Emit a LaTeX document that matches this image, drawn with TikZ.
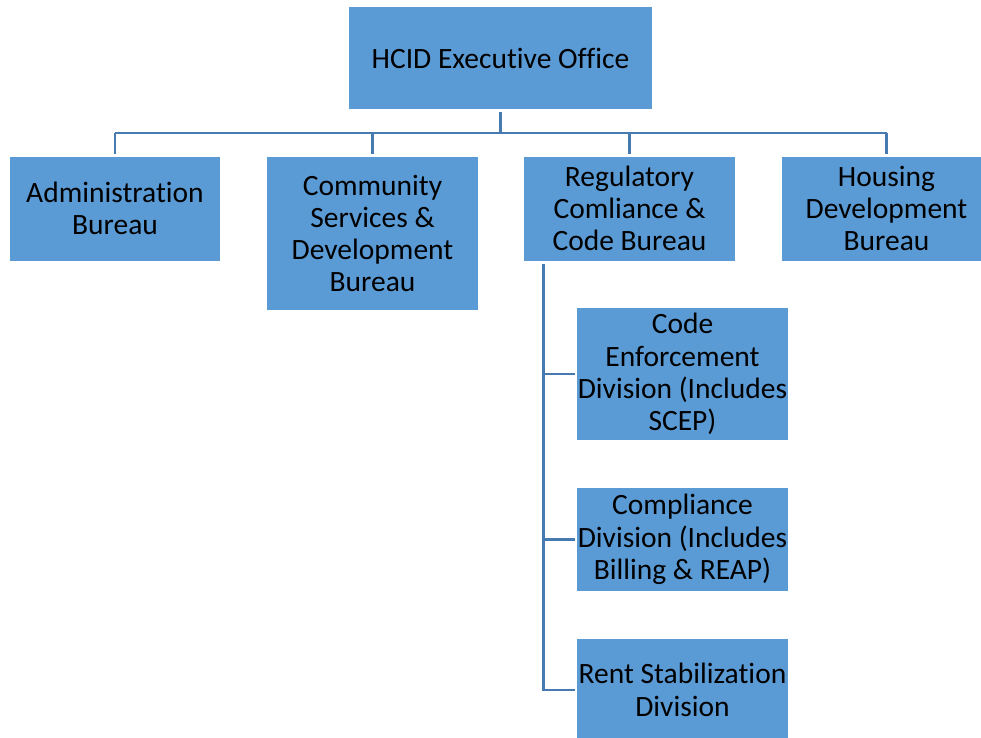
\documentclass[tikz,border=0pt]{standalone}
\usepackage{fontspec}
\setmainfont[Ligatures=NoCommon]{Carlito}
\definecolor{boxblue}{RGB}{91,155,213}
\definecolor{linkblue}{RGB}{72,122,178}
\begin{document}
\begin{tikzpicture}[x=1pt,y=-1pt,
  unit/.style={fill=boxblue, draw=none, inner sep=0pt, align=center,
    minimum width=211pt, minimum height=104pt,
    font=\fontsize{29.5}{32.3}\selectfont},
  link/.style={draw=linkblue, line width=2.7pt}]
\useasboundingbox[fill=white] (0,0) rectangle (981,737);

% boxes
\node[unit, minimum width=303pt, minimum height=102pt] (exec) at (500.5,58) {HCID Executive Office};
\node[unit, minimum width=210pt] (admin) at (115,208.5) {Administration\\Bureau};
\node[unit, minimum height=153pt] (comm) at (372.5,233.5) {Community\\Services \&\\Development\\Bureau};
\node[unit] (reg) at (629.5,208.5) {Regulatory\\Comliance \&\\Code Bureau};
\node[unit, minimum width=209pt] (hous) at (886.5,208.5) {Housing\\Development\\Bureau};
\node[unit, minimum height=132pt] (code) at (682.5,374) {Code\\Enforcement\\Division (Includes\\SCEP)};
\node[unit, minimum height=103pt] (compl) at (682.5,539.5) {Compliance\\Division (Includes\\Billing \& REAP)};
\node[unit, minimum height=102pt] (rent) at (682.5,690) {Rent Stabilization\\Division};

% top-level connectors
\coordinate (bar) at (0,133);
\draw[link, shorten <=3pt] (exec.south) -- (exec.south |- bar);
\draw[link] (admin.north |- bar) -- (hous.north |- bar);
\foreach \n in {admin,comm,reg,hous}
  \draw[link, shorten <=2.5pt] (\n.north) -- (\n.north |- bar);

% division connectors
\coordinate (spine) at ([xshift=20pt]reg.south west);
\draw[link, shorten <=3pt, shorten >=2pt] (spine) |- (rent.west);
\draw[link, shorten >=2pt] (spine |- code.west) -- (code.west);
\draw[link, shorten >=2pt] (spine |- compl.west) -- (compl.west);
\end{tikzpicture}
\end{document}
